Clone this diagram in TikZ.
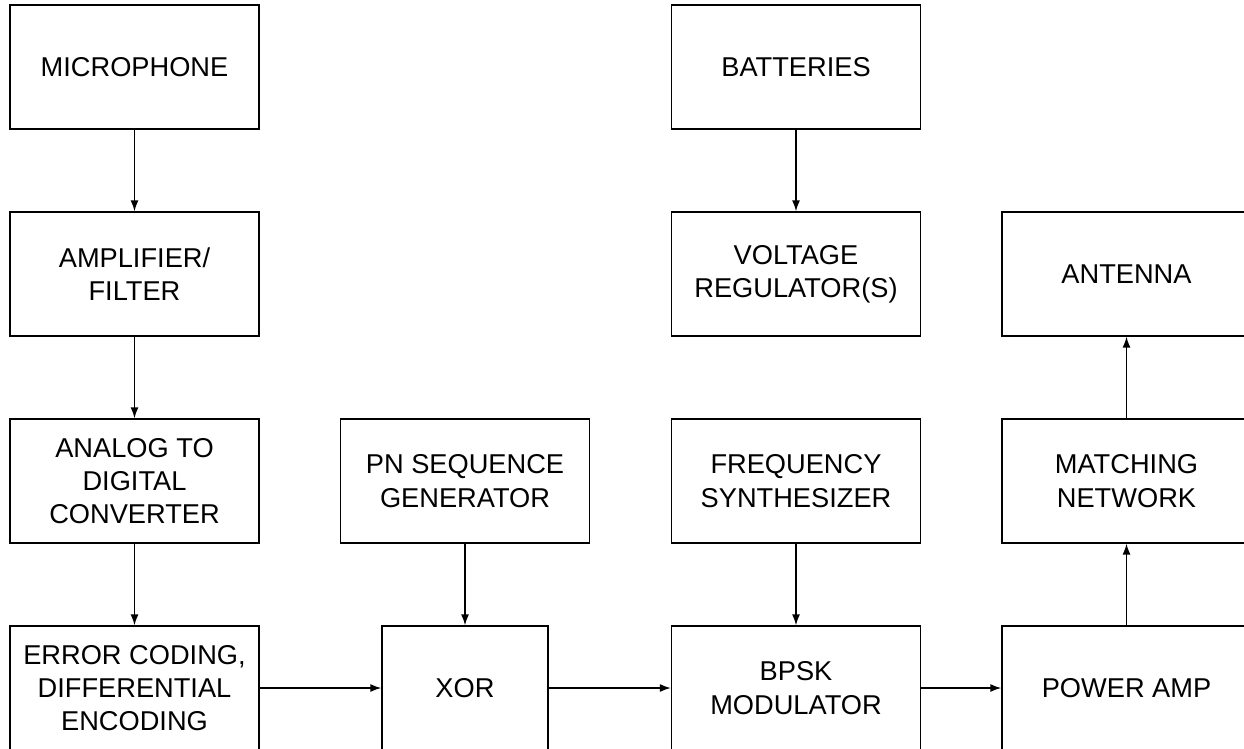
\documentclass[tikz,border=0pt]{standalone}
\usepackage{fontspec}
\setmainfont{Liberation Sans}
\usetikzlibrary{positioning, arrows.meta}

\tikzset{
    blockbox/.style={draw, line width=0.8pt, minimum width=4.98cm, minimum height=2.48cm,
        align=center, inner sep=0pt, font=\fontsize{15.5}{19}\selectfont},
    narrowbox/.style={blockbox, minimum width=3.32cm},
    flow/.style={-{Latex[length=2.2mm, width=1.6mm]}, line width=0.8pt}
}

\begin{document}
\begin{tikzpicture}[x=0.02cm, y=-0.02cm]
        % --- SETTINGS ---
        \def\colA{134.5}
        \def\colB{465}
        \def\colC{796}
        \def\colD{1126.5}
        \def\rowA{67}
        \def\rowB{274}
        \def\rowC{481}
        \def\rowD{688}

        \useasboundingbox (0,0) rectangle (1244,748);
        \clip (0,0) rectangle (1244,748);

        % =========================================
        % AUDIO CHAIN (left column)
        % =========================================
        \node[blockbox] (mic) at (\colA, \rowA) {MICROPHONE};
        \node[blockbox] (amp) at (\colA, \rowB) {AMPLIFIER/\\FILTER};
        \node[blockbox] (adc) at (\colA, \rowC) {ANALOG TO\\DIGITAL\\CONVERTER};
        \node[blockbox] (ecc) at (\colA, \rowD) {ERROR CODING,\\DIFFERENTIAL\\ENCODING};

        % =========================================
        % SPREADING
        % =========================================
        \node[blockbox] (pn) at (\colB, \rowC) {PN SEQUENCE\\GENERATOR};
        \node[narrowbox] (xor) at (\colB, \rowD) {XOR};

        % =========================================
        % POWER AND MODULATION
        % =========================================
        \node[blockbox] (bat) at (\colC, \rowA) {BATTERIES};
        \node[blockbox] (vreg) at (\colC, \rowB) {VOLTAGE\\REGULATOR(S)};
        \node[blockbox] (synth) at (\colC, \rowC) {FREQUENCY\\SYNTHESIZER};
        \node[blockbox] (bpsk) at (\colC, \rowD) {BPSK\\MODULATOR};

        % =========================================
        % RF OUTPUT (right column)
        % =========================================
        \node[blockbox] (ant) at (\colD, \rowB) {ANTENNA};
        \node[blockbox] (match) at (\colD, \rowC) {MATCHING\\NETWORK};
        \node[blockbox] (pamp) at (\colD, \rowD) {POWER AMP};

        % Connections
        \draw[flow] (mic) -- (amp);
        \draw[flow] (amp) -- (adc);
        \draw[flow] (adc) -- (ecc);
        \draw[flow] (pn) -- (xor);
        \draw[flow] (bat) -- (vreg);
        \draw[flow] (synth) -- (bpsk);
        \draw[flow] (ecc) -- (xor);
        \draw[flow] (xor) -- (bpsk);
        \draw[flow] (bpsk) -- (pamp);
        \draw[flow] (pamp) -- (match);
        \draw[flow] (match) -- (ant);
    \end{tikzpicture}
\end{document}
